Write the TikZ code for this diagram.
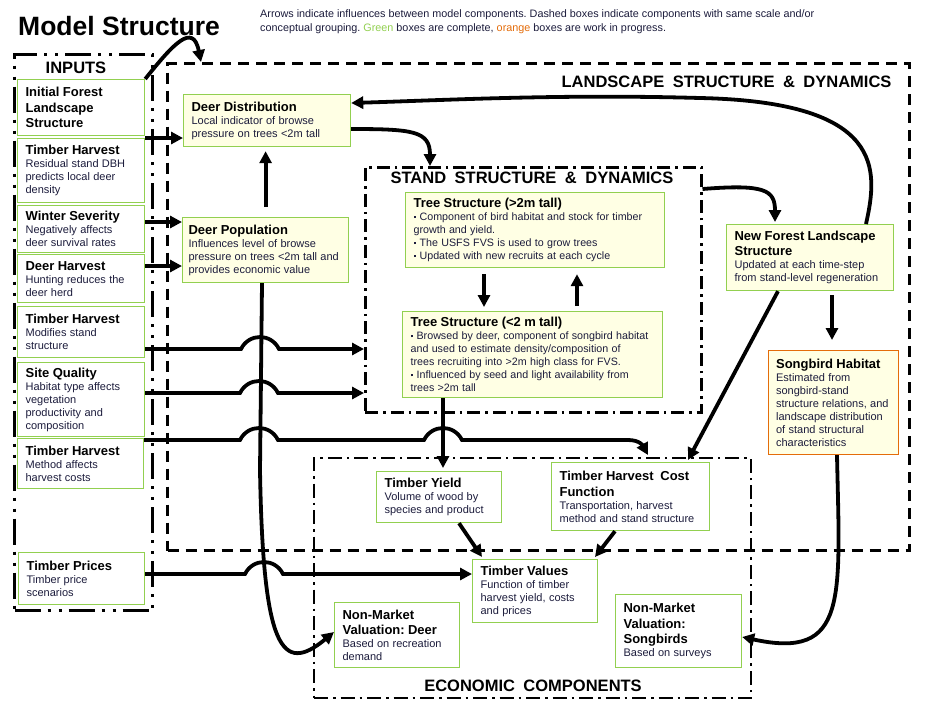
\documentclass[tikz,border=0pt]{standalone}
\usepackage{fontspec}
\setmainfont{Liberation Sans}
\usetikzlibrary{arrows.meta}
\definecolor{boxgreen}{RGB}{146,208,80}
\definecolor{boxorange}{RGB}{228,108,10}
\definecolor{boxfill}{RGB}{255,255,228}
\definecolor{txt}{RGB}{28,28,60}
\frenchspacing
\newcommand{\hd}[1]{{\color{black}\fontsize{13}{15.5}\selectfont\bfseries #1\par}}
\newcommand{\bd}[1]{{\fontsize{11}{13}\selectfont #1\par}}
\newcommand{\itm}[1]{\par\noindent\hangindent=6pt\hangafter=1\makebox[6pt][l]{\raisebox{2.5pt}{\rule{2.2pt}{2.2pt}}}#1}
\newcommand{\grpfont}{\fontsize{16.5}{19}\selectfont\bfseries\spaceskip=8.5pt\relax}

\begin{document}
\begin{tikzpicture}[x=1pt,y=1pt,
	>={Triangle[length=12pt,width=12pt]},
	arr/.style={->,line width=3.8pt},
	box/.style={draw=boxgreen,line width=1.2pt,anchor=north west,align=left,inner xsep=8pt,inner ysep=2pt,text=txt},
	ybox/.style={box,fill=boxfill},
	wbox/.style={box,fill=white},
	grp/.style={draw,anchor=north west,line width=3pt},
	grptitle/.style={font=\grpfont}]
	\useasboundingbox[fill=white] (0,0) rectangle (927,-713);
	%
	\node[anchor=base west,inner sep=0,font=\fontsize{26.5}{30}\selectfont\bfseries] (title) at (18,-35) {Model Structure};
	\node[anchor=base west,align=left,inner sep=0,text=txt,font=\fontsize{10.8}{13.5}\selectfont] (note) at (260,-31)
		{Arrows indicate influences between model components. Dashed boxes indicate components with same scale and/or\\
		conceptual grouping. \textcolor{boxgreen}{Green} boxes are complete, \textcolor{boxorange}{orange} boxes are work in progress.};
	%
	\node[grp,dash pattern=on 26pt off 7pt on 3pt off 8pt on 3pt off 7pt,minimum width=138pt,minimum height=556pt] (inputs) at (13,-53) {};
	\node[grp,dash pattern=on 11pt off 7pt,minimum width=742pt,minimum height=487pt] (land) at (166,-62) {};
	\node[grp,line width=2.5pt,dash pattern=on 13pt off 5pt on 2.5pt off 5pt,minimum width=336pt,minimum height=245pt] (stand) at (364,-166) {};
	\node[grp,line width=2.2pt,dash pattern=on 14pt off 5pt on 2.5pt off 5pt,minimum width=437pt,minimum height=240pt] (econ) at (313,-457) {};
	\node[grptitle] (tin) at (76,-68) {INPUTS};
	\node[grptitle,anchor=east] (tland) at (895,-82) {LANDSCAPE STRUCTURE \& DYNAMICS};
	\node[grptitle] (tstand) at (532,-178) {STAND STRUCTURE \& DYNAMICS};
	\node[grptitle] (tecon) at (533,-686) {ECONOMIC COMPONENTS};
	%
	\node[wbox,text width=111pt,minimum height=56pt] (init) at (17,-79) {\hd{Initial Forest\\Landscape\\Structure}};
	\node[wbox,text width=111pt,minimum height=64pt] (harv1) at (17,-138) {\hd{Timber Harvest}\bd{Residual stand DBH\\predicts local deer\\density}};
	\node[wbox,text width=111pt,minimum height=47pt] (winter) at (17,-205) {\hd{Winter Severity}\bd{Negatively affects\\deer survival rates}};
	\node[wbox,text width=111pt,minimum height=48pt] (deerh) at (17,-254) {\hd{Deer Harvest}\bd{Hunting reduces the\\deer herd}};
	\node[wbox,text width=111pt,minimum height=51pt] (harv2) at (17,-306) {\hd{Timber Harvest}\bd{Modifies stand\\structure}};
	\node[wbox,text width=111pt,minimum height=74pt] (site) at (17,-362) {\hd{Site Quality}\bd{Habitat type affects\\vegetation\\productivity and\\composition}};
	\node[wbox,text width=110pt,minimum height=50pt] (harv3) at (17,-438) {\hd{Timber Harvest}\bd{Method affects\\harvest costs}};
	\node[wbox,text width=110pt,minimum height=52pt] (prices) at (18,-552) {\hd{Timber Prices}\bd{Timber price\\scenarios}};
	%
	\node[ybox,text width=151pt,minimum height=52pt] (dd) at (183,-94) {\hd{Deer Distribution}\bd{Local indicator of browse\\pressure on trees <2m tall}};
	\node[ybox,text width=154pt,inner xsep=6pt,minimum height=65pt] (dp) at (182,-217) {\hd{Deer Population}\bd{Influences level of browse\\pressure on trees <2m tall and\\provides economic value}};
	\node[ybox,text width=243pt,minimum height=75pt] (tsh) at (405,-192) {\hd{Tree Structure (>2m tall)}{\fontsize{10.7}{13}\selectfont
		\itm{Component of bird habitat and stock for timber\\growth and yield.}\itm{The USFS FVS is used to grow trees}\itm{Updated with new recruits at each cycle}\par}};
	\node[ybox,text width=244pt,minimum height=86pt] (tsl) at (402,-311) {\hd{Tree Structure (<2 m tall)}{\fontsize{10.7}{13}\selectfont
		\itm{Browsed by deer, component of songbird habitat\\and used to estimate density/composition of\\trees recruiting into >2m high class for FVS.}\itm{Influenced by seed and light availability from\\trees >2m tall}\par}};
	\node[ybox,text width=151pt,minimum height=66pt] (nfl) at (726,-224) {\hd{New Forest Landscape\\Structure}\bd{Updated at each time-step\\from stand-level regeneration}};
	\node[ybox,draw=boxorange,text width=115pt,inner xsep=7.5pt,minimum height=104pt] (sh) at (768,-350) {\hd{Songbird Habitat}\bd{Estimated from\\songbird-stand\\structure relations, and\\landscape distribution\\of stand structural\\characteristics}};
	%
	\node[wbox,text width=109pt,minimum height=51pt] (ty) at (376,-471) {\hd{Timber Yield}\bd{Volume of wood by\\species and product}};
	\node[wbox,text width=142pt,minimum height=68pt] (thc) at (551,-462) {\hd{Timber Harvest\ \ Cost\\Function}\bd{Transportation, harvest\\method and stand structure}};
	\node[wbox,text width=109pt,minimum height=63pt] (tv) at (472,-559) {\hd{Timber Values}\bd{Function of timber\\harvest yield, costs\\and prices}};
	\node[wbox,text width=109pt,minimum height=65pt] (nmd) at (334,-602) {\hd{Non-Market\\Valuation: Deer}\bd{Based on recreation\\demand}};
	\node[wbox,text width=110pt,minimum height=73pt] (nms) at (615,-594) {\hd{Non-Market\\Valuation:\\Songbirds}\bd{Based on surveys}};
	%
	\draw[arr] (init.north east) .. controls +(28,35) and +(-8,40) .. ([xshift=35pt]land.north west);
	\draw[arr] (harv1.north east) -- (dd.west |- harv1.north east);
	\draw[arr] (winter.east |- 0,-222) -- (dp.west |- 0,-222);
	\draw[arr] (deerh.east |- 0,-266) -- (dp.west |- 0,-266);
	\draw[arr,shorten <=10pt,shorten >=4pt] (dp.north) -- (dp.north |- dd.south);
	\draw[arr] (dd.east |- 0,-129) .. controls +(62,0) and +(0,35) .. ([xshift=66pt]stand.north west);
	\draw[arr] (nfl.north -| 866,0) .. controls (878,-170) and (886,-102) .. (700,-98) .. controls (560,-94) and (450,-100) .. (dd.east |- 0,-103);
	\draw[arr] (stand.east |- 0,-189) .. controls (765,-184) and (775,-190) .. ([xshift=49pt,yshift=2pt]nfl.north west);
	\draw[arr,shorten <=4pt,shorten >=10pt] (nfl.south -| 832,0) -- (sh.north -| 832,0);
	\draw[arr,shorten <=6pt,shorten >=4pt] (tsh.south -| 484,0) -- (tsl.north -| 484,0);
	\draw[arr,shorten <=5pt,shorten >=6pt] (tsl.north -| 577,0) -- (tsh.south -| 577,0);
	%
	\draw[arr] (dp.south -| 262,0) -- (260,-470) .. controls (263,-650) and (282,-675) .. (nmd.west |- 0,-632);
	\draw[arr] (harv2.east |- 0,-349) -- (241,-349) .. controls +(8,16) and +(-8,16) .. (279,-349) -- (stand.west |- 0,-349);
	\draw[arr] (site.east |- 0,-393) -- (240,-393) .. controls +(8,16) and +(-8,16) .. (278,-393) -- (stand.west |- 0,-393);
	\draw[arr] (harv3.east |- 0,-440) -- (240,-440) .. controls +(8,16) and +(-8,16) .. (278,-440) -- (424,-440)
		.. controls +(8,16) and +(-8,16) .. (462,-440) -- (628,-440) .. controls (640,-440) and (643,-446) .. ([xshift=97pt,yshift=7pt]thc.north west);
	\draw[arr] (prices.east |- 0,-574) -- (245,-574) .. controls +(8,16) and +(-8,16) .. (283,-574) -- (tv.west |- 0,-574);
	%
	\draw[arr,shorten >=3pt] (tsl.south -| 443,0) -- (ty.north -| 443,0);
	\draw[arr] ([xshift=52pt]nfl.south west) -- ([xshift=137pt,yshift=2pt]thc.north west);
	\draw[arr] ([xshift=83pt]ty.south west) -- ([xshift=10pt,yshift=2pt]tv.north west);
	\draw[arr] ([xshift=64pt]thc.south west) -- ([xshift=123pt,yshift=2pt]tv.north west);
	\draw[arr] (sh.south -| 837,0) .. controls (840,-600) and (848,-660) .. (nms.east |- 0,-637);
\end{tikzpicture}
\end{document}
